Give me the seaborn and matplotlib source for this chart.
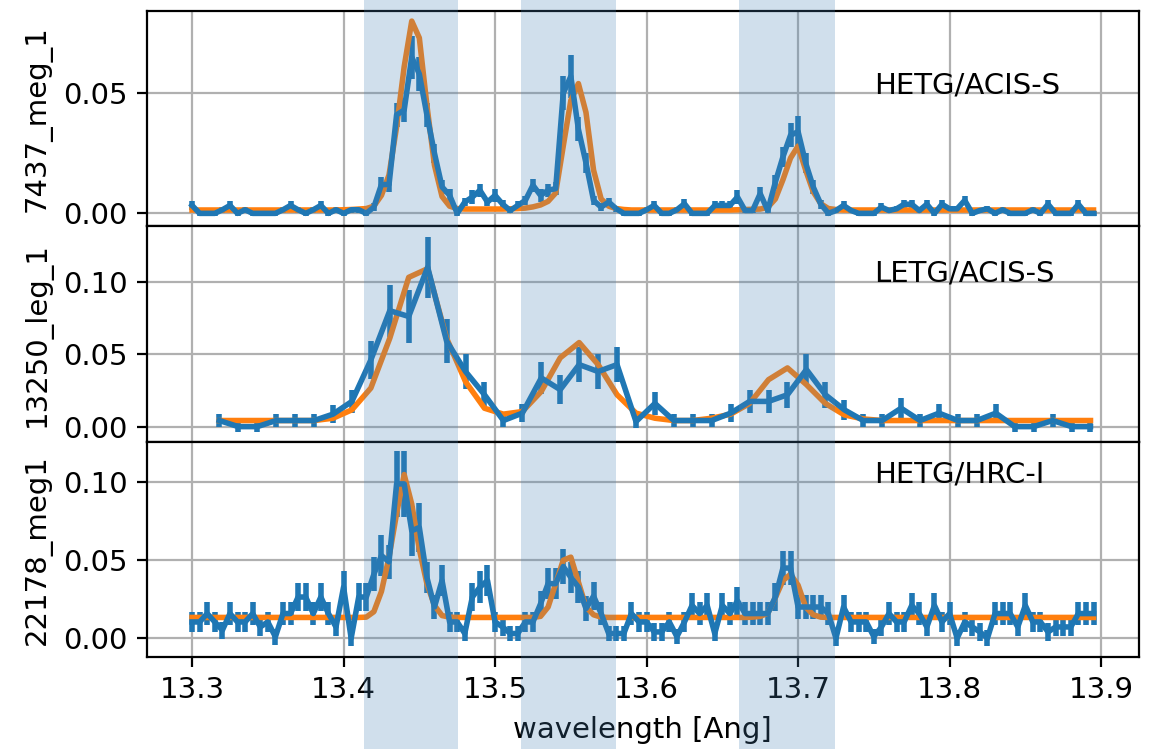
import numpy as np
import matplotlib
matplotlib.use("Agg")
import matplotlib.pyplot as plt
import matplotlib.transforms as mtransforms
from matplotlib.patches import Rectangle
import seaborn as sns

# wavelength grids (bin centres) of the two grating binnings
WAVE_MEG = np.round(13.300 + 0.005 * np.arange(120), 4)
WAVE_LEG = np.round(13.318 + 0.0125 * np.arange(47), 4)

# 7437_meg_1  (HETG/ACIS-S)
FLUX_7437 = [
    0.0033, 0.0, 0.0, 0.0, 0.0015, 0.0033, 0.0, 0.0015, 0.0, 0.0,
    0.0, 0.0, 0.0015, 0.0033, 0.0015, 0.0, 0.0015, 0.0033, 0.0, 0.0015,
    0.0, 0.0015, 0.0015, 0.0, 0.0026, 0.012, 0.012, 0.041, 0.043, 0.065,
    0.058, 0.041, 0.025, 0.011, 0.0075, 0.0, 0.0047, 0.0068, 0.0096, 0.0047,
    0.0075, 0.0038, 0.0012, 0.0033, 0.0054, 0.0117, 0.0075, 0.0096, 0.0103, 0.050,
    0.057, 0.035, 0.021, 0.0054, 0.0026, 0.0047, 0.0019, 0.0, 0.0, 0.0,
    0.0015, 0.0033, 0.0, 0.0, 0.0015, 0.004, 0.0, 0.0, 0.0, 0.0033,
    0.0033, 0.0033, 0.0068, 0.0012, 0.0012, 0.0082, 0.0012, 0.013, 0.0235, 0.0325,
    0.034, 0.021, 0.011, 0.0038, 0.0, 0.0012, 0.0033, 0.0012, 0.0, 0.0,
    0.0, 0.0026, 0.0012, 0.0019, 0.0038, 0.0038, 0.0012, 0.0038, 0.0, 0.0038,
    0.0019, 0.0019, 0.0054, 0.0, 0.0012, 0.0019, 0.0, 0.0015, 0.0, 0.0,
    0.0, 0.0015, 0.0, 0.0038, 0.0, 0.0, 0.0, 0.0038, 0.0, 0.0,
]
ERR_7437 = [
    .0018, .001, .001, .001, .0012, .0018, .001, .0012, .001, .001,
    .001, .001, .0012, .0018, .0012, .001, .0012, .0018, .001, .0012,
    .001, .0012, .0012, .001, .0018, .003, .003, .005, .005, .009,
    .007, .005, .004, .0028, .0028, .001, .0018, .0028, .0028, .0018,
    .0028, .0018, .0012, .0018, .0018, .0028, .0028, .0028, .0028, .007,
    .009, .005, .004, .0018, .0018, .0018, .0012, .001, .001, .001,
    .0012, .0018, .001, .001, .0012, .0018, .001, .001, .001, .0018,
    .0018, .0018, .0028, .0012, .0012, .0028, .0012, .003, .004, .005,
    .0065, .004, .0028, .0018, .001, .0012, .0018, .0012, .001, .001,
    .001, .0018, .0012, .0012, .0018, .0018, .0012, .0018, .001, .0018,
    .0012, .0012, .0018, .001, .0012, .0012, .001, .0012, .001, .001,
    .001, .0012, .001, .0018, .001, .001, .001, .0018, .001, .001,
]
MODEL_7437 = [
    .0014, .0014, .0014, .0014, .0014, .0014, .0014, .0014, .0014, .0014,
    .0014, .0014, .0014, .0014, .0014, .0014, .0014, .0014, .0014, .0014,
    .0015, .0016, .0018, .002, .003, .0075, .016, .036, .061, .080,
    .073, .045, .020, .007, .003, .002, .0018, .0018, .0018, .0018,
    .0018, .0018, .0019, .002, .0022, .0027, .0035, .005, .0085, .028,
    .047, .054, .042, .018, .006, .003, .002, .0016, .0014, .0014,
    .0014, .0014, .0014, .0014, .0014, .0014, .0014, .0014, .0014, .0014,
    .0014, .0014, .0015, .0016, .0017, .0018, .0025, .006, .014, .023,
    .028, .018, .009, .004, .002, .0016, .0014, .0014, .0014, .0014,
    .0014, .0014, .0014, .0014, .0014, .0014, .0014, .0014, .0014, .0014,
    .0014, .0014, .0014, .0014, .0014, .0014, .0014, .0014, .0014, .0014,
    .0014, .0014, .0014, .0014, .0014, .0014, .0014, .0014, .0014, .0014,
]

# 13250_leg_1  (LETG/ACIS-S)
FLUX_13250 = [
    0.0042, 0.0, 0.0, 0.0042, 0.0042, 0.0042, 0.0086, 0.0174, 0.046, 0.080,
    0.076, 0.110, 0.059, 0.038, 0.022, 0.0042, 0.0093, 0.0336, 0.0255, 0.0428,
    0.038, 0.0428, 0.0035, 0.016, 0.0042, 0.0042, 0.0042, 0.0093, 0.0174, 0.0174,
    0.022, 0.0394, 0.022, 0.0116, 0.0042, 0.0042, 0.0127, 0.0042, 0.0093, 0.0042,
    0.0042, 0.0093, 0.0, 0.0, 0.0042, 0.0, 0.0,
]
ERR_13250 = [
    .0046, .0035, .0035, .0046, .0046, .0046, .006, .008, .013, .018,
    .018, .021, .015, .012, .009, .0046, .006, .011, .010, .012,
    .012, .012, .0046, .008, .0046, .0046, .0046, .006, .008, .008,
    .009, .011, .009, .007, .0046, .0046, .007, .0046, .006, .0046,
    .0046, .006, .0035, .0035, .0046, .0035, .0035,
]
MODEL_13250 = [
    .0042, .0042, .0042, .0042, .0042, .0042, .0058, .0116, .0266, .061,
    .103, .109, .061, .031, .0127, .0086, .0104, .0243, .0475, .058,
    .0428, .022, .0093, .0058, .0042, .0042, .0058, .0086, .016, .0324,
    .0405, .029, .016, .0081, .0053, .0042, .0042, .0042, .0042, .0042,
    .0042, .0042, .0042, .0042, .0042, .0042, .0042,
]

# 22178_meg1  (HETG/HRC-I)
FLUX_22178 = [
    .0104, .0104, .0158, .0104, .0051, .0158, .0104, .0104, .0158, .0072,
    .0104, .0009, .0158, .0158, .0264, .0264, .0158, .0264, .0158, .0072,
    .0328, .0, .0264, .0264, .041, .053, .049, .099, .099, .069,
    .071, .039, .020, .037, .0104, .0104, .003, .0264, .0328, .037,
    .0104, .0072, .003, .003, .0104, .0104, .022, .035, .035, .046,
    .039, .0328, .019, .027, .0158, .003, .003, .003, .0158, .0104,
    .0104, .004, .004, .0104, .001, .0104, .021, .0158, .021, .003,
    .021, .0158, .024, .0158, .0158, .0158, .0158, .0264, .045, .045,
    .020, .020, .020, .020, .0158, .0, .020, .0104, .0104, .0104,
    .001, .0072, .0158, .0104, .0104, .021, .0158, .0072, .021, .0104,
    .0158, .0, .0104, .0072, .004, .0, .0158, .0158, .0158, .0072,
    .021, .0104, .0104, .004, .0072, .0072, .0072, .0158, .0158, .0158,
]
ERR_22178 = [
    .0065, .0065, .0075, .0065, .0055, .0075, .0065, .0065, .0075, .006,
    .0065, .005, .0075, .0075, .009, .009, .0075, .009, .0075, .006,
    .010, .005, .009, .009, .011, .013, .011, .021, .021, .016,
    .016, .010, .008, .010, .0065, .0065, .005, .009, .010, .010,
    .0065, .006, .005, .005, .0065, .0065, .008, .010, .010, .011,
    .010, .010, .008, .009, .0075, .005, .005, .005, .0075, .0065,
    .0065, .0055, .0055, .0065, .005, .0065, .008, .0075, .008, .005,
    .008, .0075, .009, .0075, .0075, .0075, .0075, .009, .011, .011,
    .008, .008, .008, .008, .0075, .005, .008, .0065, .0065, .0065,
    .005, .006, .0075, .0065, .0065, .008, .0075, .006, .008, .0065,
    .0075, .005, .0065, .006, .0055, .005, .0075, .0075, .0075, .006,
    .008, .0065, .0065, .0055, .006, .006, .006, .0075, .0075, .0075,
]
MODEL_22178 = [
    .0133, .0133, .0133, .0133, .0133, .0133, .0133, .0133, .0133, .0133,
    .0133, .0133, .0133, .0133, .0133, .0133, .0133, .0133, .0133, .0133,
    .0133, .0133, .0133, .0135, .017, .030, .052, .080, .105, .086,
    .057, .035, .021, .0145, .0135, .0133, .0133, .0133, .0133, .0133,
    .0133, .0133, .0133, .0133, .0133, .0133, .014, .020, .035, .050,
    .052, .036, .020, .015, .0135, .0133, .0133, .0133, .0133, .0133,
    .0133, .0133, .0133, .0133, .0133, .0133, .0133, .0133, .0133, .0133,
    .0133, .0133, .0133, .0133, .0135, .014, .016, .026, .037, .041,
    .034, .020, .015, .0135, .0133, .0133, .0133, .0133, .0133, .0133,
    .0133, .0133, .0133, .0133, .0133, .0133, .0133, .0133, .0133, .0133,
    .0133, .0133, .0133, .0133, .0133, .0133, .0133, .0133, .0133, .0133,
    .0133, .0133, .0133, .0133, .0133, .0133, .0133, .0133, .0133, .0133,
]

OBS_LABELS = ["7437_meg_1", "13250_leg_1", "22178_meg1"]
INSTRUMENTS = ["HETG/ACIS-S", "LETG/ACIS-S", "HETG/HRC-I"]
INST_Y = [0.05, 0.10, 0.10]
YLIMS = [(-0.0054, 0.0842), (-0.0104, 0.1382), (-0.0121, 0.1261)]
XTICKS = [13.3, 13.4, 13.5, 13.6, 13.7, 13.8, 13.9]
YTICKS = [0.0, 0.05, 0.10]

# He-like triplet regions (r, i, f)
BAND_LO = [13.4134, 13.517, 13.6607]
BAND_HI = [13.4757, 13.580, 13.7243]

panels = [
    (WAVE_MEG, FLUX_7437, ERR_7437, MODEL_7437),
    (WAVE_LEG, FLUX_13250, ERR_13250, MODEL_13250),
    (WAVE_MEG, FLUX_22178, ERR_22178, MODEL_22178),
]

plt.rcParams["font.family"] = ["DejaVu Sans"]
plt.rcParams["font.size"] = 10.5
fig, axes = plt.subplots(3, 1, sharex=True, figsize=(5.745, 3.745), dpi=200)
fig.subplots_adjust(left=0.128, right=0.991, top=0.9853, bottom=0.1228, hspace=0)

for i, (ax, (wave, flux, err, model)) in enumerate(zip(axes, panels)):
    ax.errorbar(wave, flux, yerr=err, color="C0", lw=2, elinewidth=2)
    sns.lineplot(x=wave, y=model, ax=ax, color="C1", lw=2)
    ax.grid(True)
    ax.set_yticks(YTICKS)
    ax.set_ylim(*YLIMS[i])
    ax.set_ylabel(OBS_LABELS[i])
    ax.text(13.75, INST_Y[i], INSTRUMENTS[i])

axes[-1].set_xticks(XTICKS)
axes[-1].set_xlim(13.2703, 13.9248)
axes[-1].set_xlabel("wavelength [Ang]")

# shaded line regions across the whole figure height
trans = mtransforms.blended_transform_factory(axes[-1].transData, fig.transFigure)
for lo, hi in zip(BAND_LO, BAND_HI):
    fig.add_artist(Rectangle((lo, 0), hi - lo, 1, transform=trans,
                             color="steelblue", alpha=0.25, lw=0, zorder=5))

fig.savefig("out.png", dpi=200)
